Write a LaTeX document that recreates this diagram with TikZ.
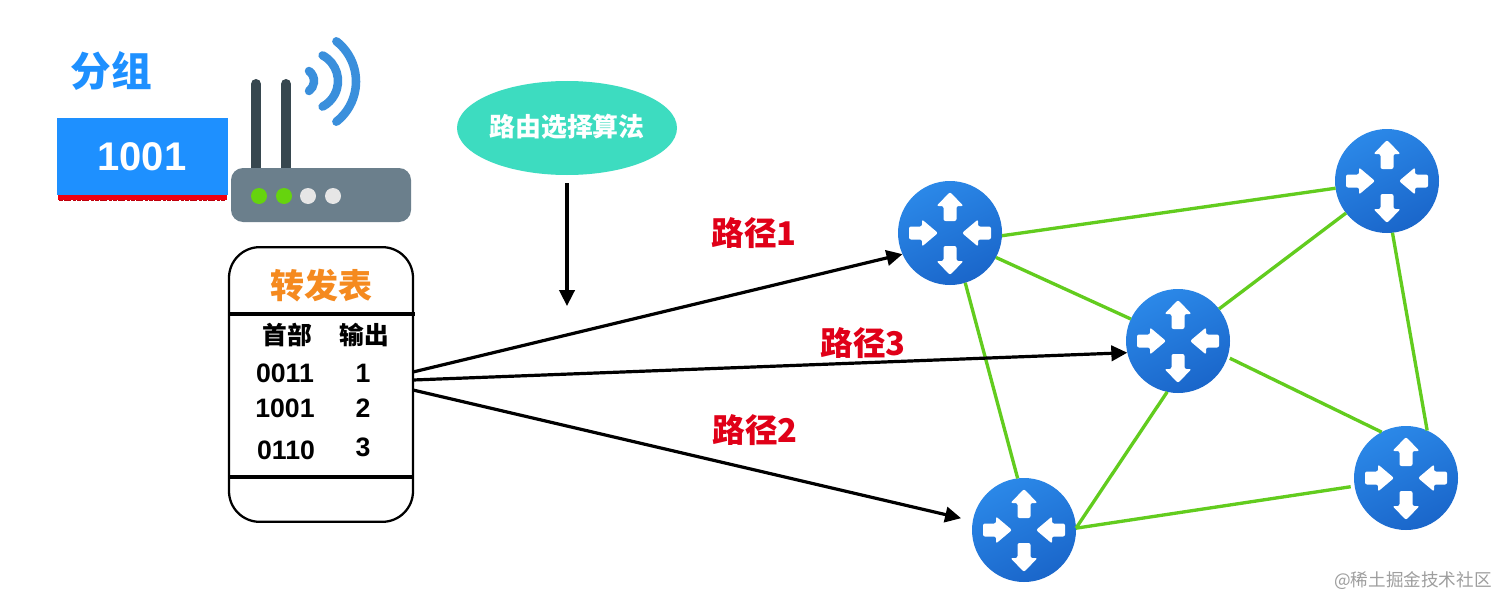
\documentclass[tikz,border=0pt]{standalone}
\usepackage{fontspec}
\usetikzlibrary{arrows.meta,shapes.geometric}
\setmainfont{Liberation Sans}
\newfontfamily\cjk{Noto Sans CJK SC}
\definecolor{pktblue}{HTML}{1E90FF}
\definecolor{routertop}{HTML}{2B88E8}
\definecolor{routerbot}{HTML}{1A66CA}
\definecolor{linkgreen}{HTML}{62CC1E}
\definecolor{algoteal}{HTML}{3DDCC0}
\definecolor{tablered}{HTML}{E00018}
\definecolor{stripred}{HTML}{F00010}
\definecolor{tableorange}{HTML}{F58A1F}
\definecolor{bodygrey}{HTML}{6B7F8C}
\definecolor{antenna}{HTML}{37474F}
\definecolor{wifiblue}{HTML}{3A8FDC}
\definecolor{ledgreen}{HTML}{66D40E}
\definecolor{ledgrey}{HTML}{E6E6E6}
\tikzset{
  x=0.75pt,y=-0.75pt,
  txt/.style={inner sep=0pt,outer sep=0pt,align=center},
  routerdisc/.style={circle,top color=routertop,bottom color=routerbot,shading angle=25,minimum size=78pt,inner sep=0pt,outer sep=0pt},
  link/.style={draw=linkgreen,line width=2.5pt},
  bigtip/.style={-{Triangle[length=12pt,width=11.5pt]}},
  routeline/.style={draw=black,line width=2.4pt,bigtip},
  cell/.style={txt,font=\fontsize{20}{22}\selectfont\bfseries,text=black},
  cellcjk/.style={txt,font=\cjk\fontsize{18.5}{22}\selectfont\bfseries,text=black},
  pathlabel/.style={txt,font=\cjk\fontsize{24.5}{28}\selectfont\bfseries,text=tablered},
  wifi/.style={draw=wifiblue,line width=6.4pt,line cap=round},
  routermark/.pic={
    \fill[white,rounded corners=1.5pt]
      (-6.5,-12)--(-6.5,-27)--(-13.5,-27)--(0,-41)--(13.5,-27)--(6.5,-27)--(6.5,-12)--cycle
      (-6.5,13)--(-6.5,28)--(-13.5,28)--(0,42)--(13.5,28)--(6.5,28)--(6.5,13)--cycle
      (-41,-6.5)--(-28,-6.5)--(-28,-13.5)--(-12,0)--(-28,13.5)--(-28,6.5)--(-41,6.5)--cycle
      (41,-6.5)--(28,-6.5)--(28,-13.5)--(12,0)--(28,13.5)--(28,6.5)--(41,6.5)--cycle;
  }
}
\begin{document}
\begin{tikzpicture}
\fill[white] (0,0) rectangle (1512,610);
\useasboundingbox (0,0) rectangle (1512,610);

% packet
\node[txt,text=pktblue,font=\cjk\fontsize{30.5}{34}\selectfont\bfseries] (pktlabel) at (111,71) {分组};
\fill[stripred] (58,195) rectangle (227,199.5);
\draw[stripred!80!black,line width=1.4pt,dash pattern=on 3pt off 1pt on 5pt off 1.5pt on 2pt off 1pt] (59,200.5) -- (226,200.5);
\fill[pktblue] (57,118) rectangle (228,195);
\node[txt,text=white,font=\fontsize{30}{34}\selectfont\bfseries] (pktvalue) at (142,157) {1001};

% wireless router icon
\draw[antenna,line width=7.5pt,line cap=round] (256,84) -- (256,170);
\draw[antenna,line width=7.5pt,line cap=round] (286,84) -- (286,170);
\fill[bodygrey,rounded corners=9pt] (231,168) rectangle (411,222);
\fill[ledgreen] (259,196) circle[radius=8];
\fill[ledgreen] (284,196) circle[radius=8];
\fill[ledgrey] (308,196) circle[radius=8];
\fill[ledgrey] (333,196) circle[radius=8];
\draw[wifi] (301.5,81) ++(-53:12.5) arc[start angle=-53,end angle=53,radius=12.5];
\draw[wifi] (309,81) ++(-62:29) arc[start angle=-62,end angle=62,radius=29];
\draw[wifi] (305,81.5) ++(-52:51) arc[start angle=-52,end angle=52,radius=51];

% algorithm
\node[ellipse,fill=algoteal,minimum width=165pt,minimum height=70.5pt,inner sep=0pt,outer sep=0pt] (algo) at (567,128) {};
\node[txt,text=white,font=\cjk\fontsize{19.4}{22}\selectfont\bfseries] (algotext) at (567,127) {路由选择算法};
\coordinate (algotip) at (567,306);
\draw[draw=black,line width=2.4pt,shorten <=6pt,bigtip] (algo.south) -- (algotip);

% forwarding table
\node[draw=black,line width=1.7pt,rounded corners=23pt,minimum width=138pt,minimum height=206pt,inner sep=0pt,outer sep=0pt] (tbl) at (321,384.5) {};
\coordinate (ruleAl) at (229,314);
\coordinate (ruleAr) at (415,314);
\coordinate (ruleBl) at (229,477);
\coordinate (ruleBr) at (412,477);
\draw[line width=2.4pt] (ruleAl) -- (ruleAr);
\draw[line width=2.4pt] (ruleBl) -- (ruleBr);
\node[txt,text=tableorange,font=\cjk\fontsize{25.5}{28}\selectfont\bfseries] (tbltitle) at (321,286) {转发表};
\node[cellcjk] (h1) at (287,335) {首部};
\node[cellcjk] (h2) at (364,335) {输出};
\node[cell] (a1) at (285,373) {0011};
\node[cell] (b1) at (363,373) {1};
\node[cell] (a2) at (285,408) {1001};
\node[cell] (b2) at (363,408) {2};
\node[cell] (a3) at (286,450) {0110};
\node[cell] (b3) at (363,447) {3};

% routers
\node[routerdisc] (R1) at (950,233) {};
\node[routerdisc] (R2) at (1387,181) {};
\node[routerdisc] (R3) at (1178,341) {};
\node[routerdisc] (R4) at (1406,478) {};
\node[routerdisc] (R5) at (1024,530) {};
\pic at (R1) {routermark};
\pic at (R2) {routermark};
\pic at (R3) {routermark};
\pic at (R4) {routermark};
\pic at (R5) {routermark};

% links
\draw[link] (R1.-3) -- (R2.188);
\draw[link] (R1.-28) -- (R3.155);
\draw[link] (R1.-73) -- (R5.97);
\draw[link] (R2.218) -- (R3.38);
\draw[link] (R2.-84) -- (R4.66);
\draw[link,shorten <=2pt] (R3.-18) -- (R4.118);
\draw[link] (R3.-102) -- (R5.2);
\draw[link,shorten >=3pt] (R5.2) -- (R4.189);

% routes
\coordinate (out1) at (413,372);
\coordinate (out3) at (413,380);
\coordinate (out2) at (413,390);
\draw[routeline] (out1) -- (R1.204);
\draw[routeline] (out3) -- (R3.193);
\draw[routeline,shorten >=9pt] (out2) -- (R5.170);

\node[pathlabel] (p1) at (754,233) {路径1};
\node[pathlabel] (p3) at (863,343) {路径3};
\node[pathlabel] (p2) at (755,430) {路径2};

% watermark
\node[txt,text=black!38,font=\cjk\fontsize{13.2}{16}\selectfont] (mark) at (1413,581) {@稀土掘金技术社区};
\end{tikzpicture}
\end{document}
